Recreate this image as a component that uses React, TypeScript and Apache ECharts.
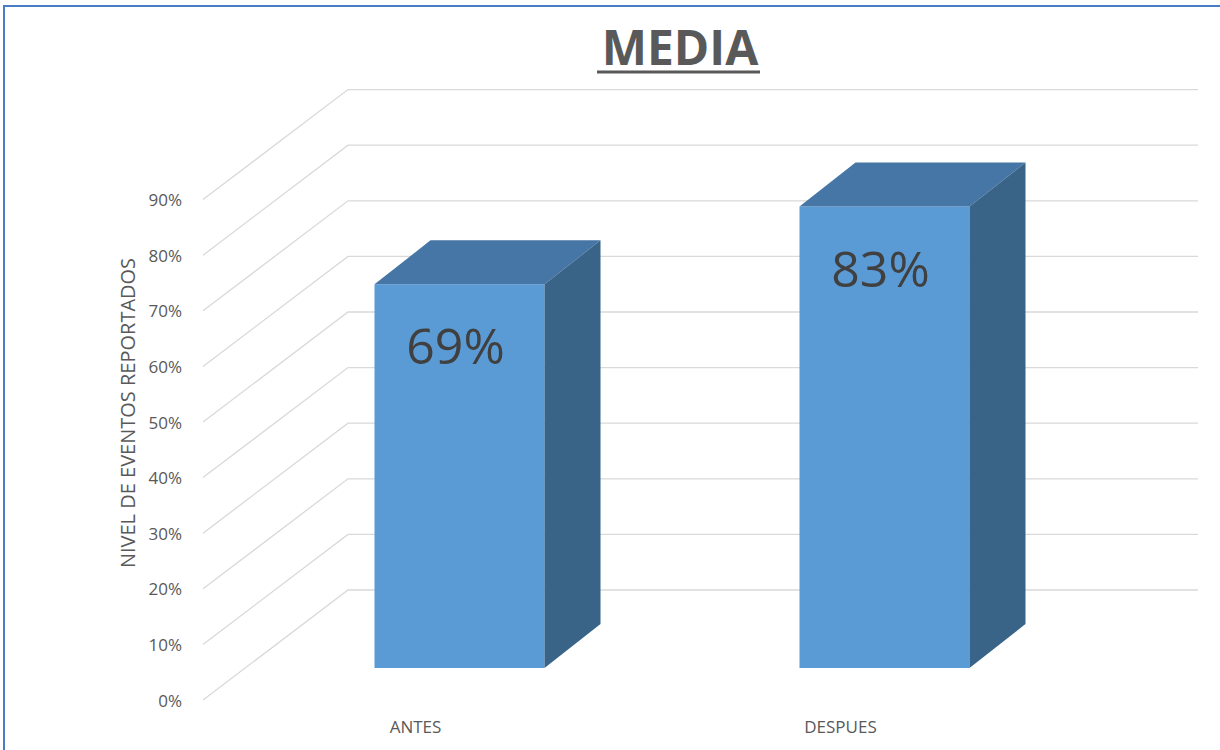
import React, { useEffect, useRef } from "react";
import * as echarts from "echarts";

const categories = ["ANTES", "DESPUES"];
const values = [0.69, 0.83];
const wallTicks = [0, 0.1, 0.2, 0.3, 0.4, 0.5, 0.6, 0.7, 0.8, 0.9];
const titleText = "MEDIA";
const yAxisName = "NIVEL DE EVENTOS REPORTADOS";

const FONT = "'Open Sans', 'Noto Sans', sans-serif";
const WALL_DX = 145;
const WALL_DY = -110;
const BAR_SX = 44;
const BAR_SY = -32;
const BAR_DX = 56;
const BAR_DY = -44;

export default function App() {
  const ref = useRef<HTMLDivElement>(null);
  useEffect(() => {
    document.body.style.margin = "0";
    const chart = echarts.init(ref.current!, null, { renderer: "svg" });
    const option: any = {
      animation: false,
      backgroundColor: "#ffffff",
      title: {
        text: titleText,
        left: 675,
        top: 17,
        textAlign: "center",
        textStyle: { fontFamily: FONT, fontSize: 48, fontWeight: "bold", color: "#595959" },
      },
      graphic: [
        { type: "rect", shape: { x: 4, y: 6, width: 1240, height: 780 }, style: { fill: "none", stroke: "#4A7EC4", lineWidth: 2 }, silent: true, z: 100 },
        { type: "line", shape: { x1: 597, y1: 72, x2: 760, y2: 72 }, style: { stroke: "#595959", lineWidth: 3 }, z: 100 },
      ],
      grid: { left: 203, right: 167, top: 144, bottom: 50 },
      xAxis: {
        type: "category",
        data: categories,
        axisLine: { show: false },
        axisTick: { show: false },
        splitLine: { show: false },
        axisLabel: { fontFamily: FONT, fontSize: 17, color: "#595959", margin: 18 },
      },
      yAxis: {
        type: "value",
        min: 0,
        max: 1,
        interval: 0.1,
        name: yAxisName,
        nameLocation: "middle",
        nameGap: 66,
        nameTextStyle: { fontFamily: FONT, fontSize: 20, color: "#595959", padding: [0, 0, 0, 18] },
        axisLine: { show: false },
        axisTick: { show: false },
        splitLine: { show: false },
        axisLabel: {
          fontFamily: FONT,
          fontSize: 17,
          color: "#595959",
          margin: 21,
          formatter: (v: number) => (v > 0.95 ? "" : Math.round(v * 100) + "%"),
        },
      },
      series: [
        {
          type: "custom",
          z: 1,
          silent: true,
          data: wallTicks.map((v) => [0, v]),
          renderItem: (params: any, api: any) => {
            const cs = params.coordSys;
            const y = api.coord([0, api.value(1)])[1];
            return {
              type: "polyline",
              shape: {
                points: [
                  [cs.x, y],
                  [cs.x + WALL_DX, y + WALL_DY],
                  [cs.x + cs.width + WALL_DX, y + WALL_DY],
                ],
              },
              style: { stroke: "#D9D9D9", lineWidth: 1.3, fill: "none" },
            };
          },
        },
        {
          type: "custom",
          z: 2,
          data: values.map((v, i) => [i, v]),
          renderItem: (params: any, api: any) => {
            const i = api.value(0);
            const v = api.value(1);
            const base = api.coord([i, 0]);
            const top = api.coord([i, v]);
            const w = api.size([1, 0])[0] * 0.4;
            const cx = base[0] + BAR_SX;
            const x0 = cx - w / 2;
            const x1 = cx + w / 2;
            const yb = base[1] + BAR_SY;
            const yt = top[1] + BAR_SY;
            return {
              type: "group",
              children: [
                {
                  type: "polygon",
                  shape: { points: [[x0, yb], [x1, yb], [x1, yt], [x0, yt]] },
                  style: { fill: "#5B9BD5" },
                },
                {
                  type: "polygon",
                  shape: { points: [[x0, yt], [x1, yt], [x1 + BAR_DX, yt + BAR_DY], [x0 + BAR_DX, yt + BAR_DY]] },
                  style: { fill: "#4576A6" },
                },
                {
                  type: "polygon",
                  shape: { points: [[x1, yb], [x1, yt], [x1 + BAR_DX, yt + BAR_DY], [x1 + BAR_DX, yb + BAR_DY]] },
                  style: { fill: "#396488" },
                },
                {
                  type: "text",
                  style: {
                    x: cx - 4,
                    y: yt + 61,
                    text: Math.round(v * 100) + "%",
                    textAlign: "center",
                    textVerticalAlign: "middle",
                    fontFamily: FONT,
                    fontSize: 50,
                    fill: "#404040",
                  },
                },
              ],
            };
          },
        },
      ],
    };
    chart.setOption(option);
    return () => chart.dispose();
  }, []);
  return <div ref={ref} style={{ width: 1220, height: 750 }} />;
}
